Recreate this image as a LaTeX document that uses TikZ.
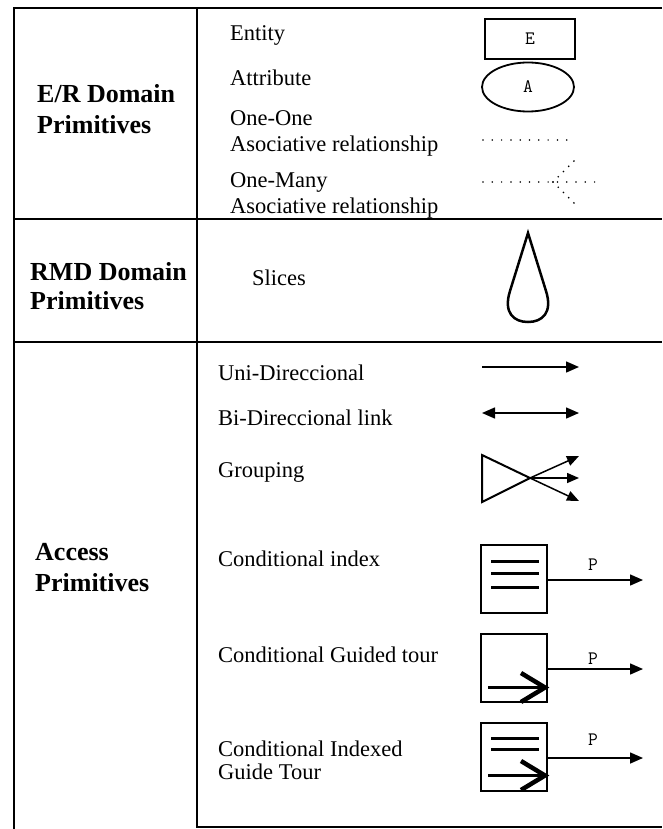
\documentclass[tikz,border=0pt]{standalone}
\usepackage{fontspec}
\setmainfont{Liberation Serif}
\usetikzlibrary{arrows.meta,shapes.geometric}
\begin{document}
\begin{tikzpicture}[x=1pt,y=-1pt,
  lbl/.style={anchor=base west,inner sep=0pt,font=\fontsize{22.5}{23}\selectfont},
  headlbl/.style={anchor=base west,inner sep=0pt,font=\fontsize{26}{28}\selectfont\bfseries},
  gridline/.style={line width=2.8pt},
  sym/.style={draw,line width=1.8pt},
  monofont/.style={font=\ttfamily\fontsize{19}{19}\selectfont},
  mono/.style={inner sep=0pt,monofont},
  tipline/.style={line width=1.5pt,-{Triangle[length=13pt,width=11pt]}},
  dotline/.style={line width=1.7pt,line cap=round,dash pattern=on 0pt off 9.3pt},
  boxsym/.style={draw,line width=2.5pt,minimum width=66pt,minimum height=68pt,inner sep=0pt},
  inner/.style={line width=3pt},
  chev/.style={line width=4.5pt,line join=miter},
]
\useasboundingbox (0,0) rectangle (662,829);
% table grid
\coordinate (lb) at (14,829);
\coordinate (lt) at (14,8);
\coordinate (rt) at (662,8);
\coordinate (dt) at (197,8);
\coordinate (db) at (197,827);
\coordinate (rb) at (662,827);
\coordinate (h1l) at (14,219);
\coordinate (h1r) at (662,219);
\coordinate (h2l) at (14,342);
\coordinate (h2r) at (662,342);
\draw[gridline] (lb) -- (lt) -- (rt);
\draw[gridline] (dt) -- (db) -- (rb);
\draw[gridline] (h1l) -- (h1r);
\draw[gridline] (h2l) -- (h2r);

% left column headings
\node[headlbl] (er1) at (37,103) {E/R Domain};
\node[headlbl] (er2) at (37,134) {Primitives};
\node[headlbl] (rmd1) at (30,280) {RMD Domain};
\node[headlbl] (rmd2) at (30,309) {Primitives};
\node[headlbl] (acc1) at (35,560) {Access};
\node[headlbl] (acc2) at (35,591) {Primitives};

% E/R labels
\node[lbl] (tent) at (230,41) {Entity};
\node[lbl] (tatt) at (230,86) {Attribute};
\node[lbl] (too1) at (230,126) {One-One};
\node[lbl] (too2) at (230,152) {Asociative relationship};
\node[lbl] (tom1) at (230,187) {One-Many};
\node[lbl] (tom2) at (230,213) {Asociative relationship};

% E/R symbols
\node[sym,minimum width=90pt,minimum height=40pt,inner sep=0pt,monofont] (ent) at (530,39) {E};
\node[sym,ellipse,minimum width=92pt,minimum height=49pt,inner sep=0pt,monofont] (att) at (528,87) {A};
\coordinate (oo1) at (483,140);
\coordinate (oo2) at (571,140);
\draw[dotline] (oo1) -- (oo2);
\coordinate (om1) at (483,182);
\coordinate (om2) at (597,182);
\coordinate (omc) at (553,182);
\coordinate (omu) at (574,161);
\coordinate (omd) at (574,203);
\draw[dotline] (om1) -- (om2);
\draw[line width=1.9pt,line cap=round,dash pattern=on 0pt off 7.4pt] (omc) -- (omu);
\draw[line width=1.9pt,line cap=round,dash pattern=on 0pt off 7.4pt] (omc) -- (omd);

% RMD
\node[lbl] (tsl) at (252,285) {Slices};
\draw[line width=2.5pt,line join=miter] (528,233) -- (510,291)
  .. controls (503,313) and (514,322) .. (528,322)
  .. controls (542,322) and (553,313) .. (546,291) -- cycle;

% Access labels
\node[lbl] (tuni) at (218,380) {Uni-Direccional};
\node[lbl] (tbi) at (218,425) {Bi-Direccional link};
\node[lbl] (tgr) at (218,477) {Grouping};
\node[lbl] (tci) at (218,566) {Conditional index};
\node[lbl] (tcg) at (218,662) {Conditional Guided tour};
\node[lbl] (tcx1) at (218,756) {Conditional Indexed};
\node[lbl] (tcx2) at (218,779) {Guide Tour};

% uni / bi
\coordinate (u1) at (482,367);
\coordinate (u2) at (579,367);
\draw[tipline] (u1) -- (u2);
\coordinate (b1) at (482,413);
\coordinate (b2) at (579,413);
\draw[line width=1.5pt,{Triangle[length=13pt,width=11pt]}-{Triangle[length=13pt,width=11pt]}] (b1) -- (b2);

% grouping
\coordinate (g1) at (482,455);
\coordinate (g2) at (482,502);
\coordinate (gx) at (530,478);
\coordinate (gt1) at (579,456);
\coordinate (gt2) at (579,478);
\coordinate (gt3) at (579,501);
\draw[line width=2pt,line join=miter] (gx) -- (g1) -- (g2) -- cycle;
\draw[line width=1.5pt,-{Triangle[length=12pt,width=10pt]}] (gx) -- (gt1);
\draw[line width=1.5pt,-{Triangle[length=12pt,width=10pt]}] (gx) -- (gt2);
\draw[line width=1.5pt,-{Triangle[length=12pt,width=10pt]}] (gx) -- (gt3);

% conditional index
\node[boxsym] (bx1) at (514,579) {};
\draw[inner] (491,561) -- (539,561);
\draw[inner] (491,573) -- (539,573);
\draw[inner] (491,587) -- (539,587);
\coordinate (p1) at (643,580);
\draw[tipline] (bx1.east |- p1) -- (p1);
\node[mono] (lp1) at (593,565) {P};

% conditional guided tour
\node[boxsym] (bx2) at (514,668) {};
\draw[inner] (488,687) -- (541,687);
\draw[chev] (521,673) -- (545,687.5) -- (521,702);
\coordinate (p2) at (643,669);
\draw[tipline] (bx2.east |- p2) -- (p2);
\node[mono] (lp2) at (593,659) {P};

% conditional indexed guide tour
\node[boxsym] (bx3) at (514,757) {};
\draw[inner] (491,738) -- (539,738);
\draw[inner] (491,749) -- (539,749);
\draw[inner] (488,775) -- (541,775);
\draw[chev] (521,761) -- (545,775.5) -- (521,790);
\coordinate (p3) at (643,758);
\draw[tipline] (bx3.east |- p3) -- (p3);
\node[mono] (lp3) at (593,740) {P};
\end{tikzpicture}
\end{document}
